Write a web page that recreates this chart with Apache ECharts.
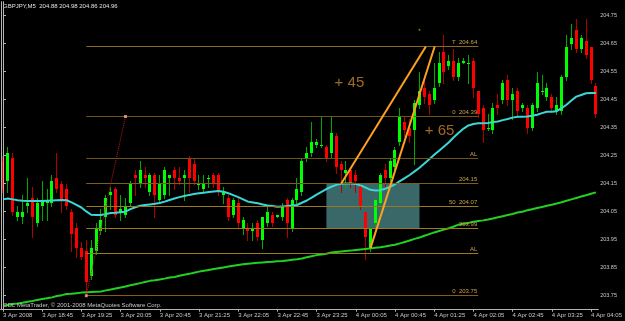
<!DOCTYPE html>
<html><head><meta charset="utf-8">
<script src="https://cdn.jsdelivr.net/npm/echarts@6/dist/echarts.min.js"></script>
<style>html,body{margin:0;padding:0;background:#000;}#c{width:625px;height:321px;}</style>
</head><body><div id="c"></div>
<script>
// ---- data (GBPJPY M5) ----
const opens=[204.23,204.16,204.24,204.03,204.03,204.07,204.10,204.01,204.07,204.08,
204.08,204.17,204.15,204.13,204.05,203.99,203.92,203.91,203.82,203.91,
203.98,204.03,204.11,204.13,204.05,204.04,204.08,204.18,204.15,204.18,
204.12,204.18,204.09,204.11,204.17,204.20,204.17,204.17,204.24,204.22,
204.15,204.13,204.17,204.18,204.18,204.11,204.10,204.04,204.08,203.99,
203.99,203.98,204.01,203.95,204.01,204.04,204.03,204.03,204.09,203.99,
204.09,204.12,204.24,204.26,204.29,204.29,204.28,204.26,204.32,204.22,
204.19,204.20,204.18,204.14,204.05,203.92,204.01,204.08,204.20,204.17,
204.21,204.30,204.37,204.35,204.34,204.43,204.49,204.47,204.45,204.51,
204.62,204.57,204.59,204.53,204.58,204.58,204.59,204.48,204.42,204.35,
204.34,204.43,204.45,204.52,204.45,204.48,204.42,204.42,204.35,204.42,
204.48,204.46,204.46,204.41,204.41,204.53,204.65,204.70,204.63,204.66,
204.64,204.50];
const highs=[204.25,204.28,204.26,204.07,204.11,204.17,204.14,204.10,204.16,204.13,
204.18,204.26,204.16,204.15,204.06,204.01,203.94,203.95,203.95,204.01,
204.06,204.11,204.14,204.14,204.11,204.10,204.16,204.20,204.23,204.21,
204.19,204.19,204.18,204.21,204.18,204.21,204.21,204.20,204.25,204.24,
204.18,204.18,204.18,204.19,204.19,204.14,204.11,204.10,204.10,204.03,
204.01,204.01,204.02,204.03,204.07,204.05,204.04,204.08,204.10,204.10,
204.17,204.24,204.28,204.37,204.31,204.39,204.29,204.39,204.33,204.23,
204.23,204.21,204.20,204.15,204.05,203.99,204.10,204.19,204.22,204.24,
204.28,204.42,204.39,204.38,204.45,204.55,204.52,204.48,204.58,204.62,
204.68,204.61,204.63,204.60,204.60,204.61,204.60,204.48,204.43,204.40,
204.44,204.47,204.52,204.54,204.49,204.49,204.44,204.43,204.44,204.55,
204.54,204.51,204.47,204.46,204.54,204.68,204.72,204.74,204.68,204.74,
204.64,204.51];
const lows=[204.12,204.12,204.04,204.02,204.01,204.05,203.96,204.00,204.02,204.02,
204.07,204.12,204.05,204.06,203.91,203.89,203.88,203.75,203.81,203.90,
203.97,203.98,204.06,204.03,204.02,204.03,204.07,204.11,204.14,204.14,
204.11,204.03,204.08,204.10,204.11,204.13,204.15,204.09,204.12,204.15,
204.13,204.12,204.14,204.14,204.11,204.08,204.02,204.03,203.99,203.97,
203.95,203.95,203.95,203.92,204.00,204.00,204.03,204.02,203.96,203.98,
204.08,204.11,204.23,204.25,204.28,204.28,204.23,204.24,204.19,204.12,
204.14,204.14,204.12,204.06,203.88,203.91,204.00,204.07,204.13,204.16,
204.20,204.29,204.32,204.30,204.22,204.42,204.44,204.40,204.44,204.50,
204.51,204.56,204.52,204.52,204.58,204.51,204.46,204.39,204.30,204.34,
204.33,204.40,204.44,204.43,204.38,204.39,204.41,204.33,204.34,204.41,
204.47,204.45,204.41,204.40,204.40,204.52,204.63,204.62,204.62,204.60,
204.51,204.39];
const closes=[204.13,204.26,204.05,204.05,204.05,204.08,204.03,204.08,204.09,204.09,
204.16,204.13,204.09,204.07,203.97,203.92,203.89,203.80,203.92,203.99,
204.02,204.10,204.12,204.04,204.06,204.07,204.15,204.17,204.20,204.17,
204.18,204.11,204.15,204.20,204.18,204.17,204.16,204.18,204.17,204.16,
204.15,204.15,204.17,204.15,204.12,204.12,204.03,204.09,204.01,204.02,
203.98,203.99,203.96,204.03,204.05,204.01,204.04,204.07,204.01,204.09,
204.13,204.23,204.26,204.30,204.30,204.29,204.24,204.33,204.21,204.20,
204.20,204.15,204.16,204.07,203.96,203.99,204.09,204.18,204.17,204.23,
204.27,204.39,204.34,204.32,204.44,204.48,204.46,204.43,204.49,204.58,
204.55,204.59,204.53,204.58,204.59,204.58,204.49,204.40,204.34,204.35,
204.42,204.42,204.51,204.45,204.47,204.41,204.43,204.35,204.43,204.51,
204.48,204.49,204.42,204.43,204.53,204.64,204.67,204.63,204.67,204.61,
204.52,204.40];
const maFast=[204.094,204.097,204.094,204.091,204.089,204.088,204.088,204.088,204.088,204.089,
204.090,204.091,204.092,204.091,204.083,204.074,204.065,204.051,204.039,204.038,
204.038,204.042,204.045,204.046,204.048,204.050,204.059,204.066,204.071,204.074,
204.076,204.078,204.081,204.086,204.092,204.097,204.102,204.106,204.110,204.113,
204.116,204.118,204.120,204.122,204.124,204.121,204.116,204.109,204.102,204.094,
204.086,204.083,204.080,204.076,204.072,204.070,204.068,204.069,204.070,204.072,
204.074,204.082,204.090,204.100,204.111,204.121,204.131,204.139,204.146,204.150,
204.151,204.151,204.149,204.144,204.136,204.128,204.126,204.127,204.132,204.139,
204.148,204.159,204.170,204.181,204.194,204.207,204.222,204.237,204.253,204.268,
204.283,204.298,204.316,204.332,204.347,204.358,204.363,204.366,204.366,204.367,
204.370,204.372,204.377,204.381,204.386,204.389,204.389,204.390,204.393,204.396,
204.402,204.407,204.407,204.409,204.420,204.432,204.447,204.461,204.467,204.473,
204.474,204.474];
const maSlow=[203.715,203.717,203.720,203.722,203.725,203.728,203.731,203.735,203.738,203.741,
203.744,203.749,203.752,203.756,203.757,203.759,203.761,203.762,203.763,203.764,
203.765,203.769,203.772,203.776,203.779,203.783,203.787,203.791,203.795,203.799,
203.803,203.805,203.808,203.811,203.815,203.817,203.821,203.825,203.828,203.832,
203.836,203.839,203.842,203.845,203.848,203.851,203.854,203.857,203.860,203.862,
203.864,203.866,203.868,203.869,203.870,203.871,203.873,203.874,203.876,203.878,
203.880,203.883,203.887,203.891,203.895,203.897,203.900,203.904,203.906,203.908,
203.910,203.911,203.913,203.915,203.917,203.919,203.921,203.923,203.926,203.929,
203.932,203.937,203.942,203.947,203.953,203.958,203.964,203.970,203.976,203.981,
203.986,203.991,203.997,204.004,204.007,204.010,204.014,204.017,204.019,204.022,
204.026,204.030,204.034,204.038,204.042,204.047,204.050,204.055,204.059,204.063,
204.067,204.071,204.075,204.079,204.084,204.089,204.094,204.099,204.104,204.109,
204.114,204.119];
const tickLabels=["3 Apr 2008","3 Apr 18:45","3 Apr 19:25","3 Apr 20:05","3 Apr 20:45","3 Apr 21:25","3 Apr 22:05","3 Apr 22:45","3 Apr 23:25","4 Apr 00:05","4 Apr 00:45","4 Apr 01:25","4 Apr 02:05","4 Apr 02:45","4 Apr 03:25","4 Apr 04:05"];
const priceTicks=[203.75,203.85,203.95,204.05,204.15,204.25,204.35,204.45,204.55,204.65,204.75];
const fibLevels=[204.64,204.39,204.24,204.15,204.07,203.99,203.90,203.75];
const fibLabels=["T  204.64","0  204.39","AL","204.15","50  204.07","203.99","AL","0  203.75"];
const fibBars=[17,97];
const trendA=[[69,204.15],[86.3,204.64]];
const trendB=[[75,203.92],[88.1,204.64]];
const zone=[[66,204.15],[85,203.99]];
const fibAnchor=[[17,203.75],[25,204.39]];
const gainNotes=[{bar:70.7,price:204.51,text:"+ 45"},{bar:89.1,price:204.34,text:"+ 65"}];
const markerDot=[85,204.70];
const titleText="GBPJPY,M5  204.88 204.98 204.86 204.96";
const copyText="ODL MetaTrader, \u00a9 2001-2008 MetaQuotes Software Corp.";

// ---- categories (5-minute bars from 3 Apr 18:05) ----
const categories=[];
for(let i=0;i<opens.length;i++){
  const m=18*60+5+5*i, day=m>=1440?4:3, mm=m%1440;
  categories.push(day+" Apr "+String(Math.floor(mm/60)).padStart(2,"0")+":"+String(mm%60).padStart(2,"0"));
}
const candleData=opens.map((o,i)=>[i,o,highs[i],lows[i],closes[i]]);

// ---- styles ----
const FONT="Liberation Sans";
const fibColors=["#8a6a1e","#6e5618","#6e5618","#7a601a","#9a7a1a","#9a7a1a","#9a7a1a","#8a5a18"];
const AXIS="#b4b4b4";

function renderCandle(params, api){
  const idx=api.value(0), o=api.value(1), h=api.value(2), l=api.value(3), c=api.value(4);
  const po=api.coord([idx,o]), pc=api.coord([idx,c]), ph=api.coord([idx,h]), pl=api.coord([idx,l]);
  const cx=Math.floor(po[0])+0.5;
  const up=c>=o;
  const t=Math.round(Math.min(po[1],pc[1]));
  const b=Math.max(Math.round(Math.max(po[1],pc[1])),t+1);
  return {type:"group",children:[
    {type:"line",shape:{x1:cx,y1:Math.round(ph[1]),x2:cx,y2:Math.round(pl[1])+1},style:{stroke:up?"#00a800":"#b00000",lineWidth:1}},
    {type:"rect",shape:{x:cx-1.5,y:t,width:3,height:b-t},style:{fill:up?"#00ff00":"#ff0000"}}
  ]};
}

const chart=echarts.init(document.getElementById("c"),null,{renderer:"canvas"});
chart.setOption({
  backgroundColor:"#000000",
  animation:false,
  title:[
    {text:titleText,left:3,top:3,padding:0,textStyle:{color:"#e0e0e0",fontSize:6,fontWeight:"normal",fontFamily:FONT}},
    {text:copyText,left:3,top:302,padding:0,textStyle:{color:"#c8c8c8",fontSize:6,fontWeight:"normal",fontFamily:FONT}}
  ],
  grid:{left:0,right:21.8,top:1.7,bottom:11.3,containLabel:false},
  xAxis:[
    {type:"category",data:categories,boundaryGap:true,
      axisLine:{show:true,lineStyle:{color:AXIS,width:1}},
      axisTick:{show:true,interval:7,alignWithLabel:true,length:2,lineStyle:{color:AXIS}},
      axisLabel:{interval:7,align:"left",margin:3,fontSize:6,color:"#c8c8c8",fontFamily:FONT,
        formatter:(v,idx)=>tickLabels[idx/8]!==undefined?tickLabels[idx/8]:""},
      splitLine:{show:false}},
    {type:"value",min:-0.5,max:121.5,show:false}
  ],
  yAxis:[
    {type:"value",position:"right",min:203.7,max:204.8,offset:-2.2,z:10,
      axisLine:{show:true,lineStyle:{color:AXIS,width:1}},
      axisTick:{show:true,length:3,customValues:priceTicks,lineStyle:{color:AXIS}},
      axisLabel:{customValues:priceTicks,margin:4,fontSize:5.5,color:"#c8c8c8",fontFamily:FONT,formatter:v=>v.toFixed(2)},
      splitLine:{show:false}},
    {type:"value",position:"left",min:203.7,max:204.8,offset:-1,z:10,
      axisLine:{show:true,lineStyle:{color:AXIS,width:1}},axisTick:{show:false},axisLabel:{show:false},splitLine:{show:false}}
  ],
  graphic:[{type:"rect",z:6,shape:{x:602,y:0,width:5,height:309},style:{fill:"#000000"}}],
  series:[
    {name:"zone",type:"line",xAxisIndex:1,data:[],z:1,
      markArea:{silent:true,itemStyle:{color:"#3a6868"},data:[[{coord:zone[0]},{coord:zone[1]}]]}},
    {name:"GBPJPY",type:"custom",z:2,renderItem:renderCandle,data:candleData,encode:{x:0,y:[1,2,3,4]}},
    {name:"MA fast",type:"line",data:maFast,z:3,symbol:"none",lineStyle:{color:"#3cd6d6",width:2}},
    {name:"MA slow",type:"line",data:maSlow,z:3,symbol:"none",lineStyle:{color:"#22d022",width:2}},
    {name:"fib",type:"scatter",xAxisIndex:1,data:[],z:4,
      markLine:{silent:true,symbol:"none",
        label:{show:true,position:"insideEndTop",formatter:"{b}",color:"#c8a050",fontSize:6,fontFamily:FONT,distance:1,padding:0},
        data:fibLevels.map((lv,k)=>[{coord:[fibBars[0],lv],name:fibLabels[k],lineStyle:{color:fibColors[k],width:1,type:"solid"}},{coord:[fibBars[1],lv]}])}},
    {name:"fibTrend",type:"scatter",xAxisIndex:1,data:[],z:4,
      markLine:{silent:true,symbol:"none",label:{show:false},
        data:[[{coord:fibAnchor[0],lineStyle:{color:"#c01818",width:1,type:"dotted"}},{coord:fibAnchor[1]}]]}},
    {name:"trends",type:"scatter",xAxisIndex:1,data:[],z:4,
      markLine:{silent:true,symbol:"none",label:{show:false},
        data:[[{coord:trendA[0],lineStyle:{color:"#ffa020",width:2,type:"solid"}},{coord:trendA[1]}],
              [{coord:trendB[0],lineStyle:{color:"#ffa020",width:2,type:"solid"}},{coord:trendB[1]}]]}},
    {name:"anchors",type:"scatter",xAxisIndex:1,z:5,symbol:"rect",symbolSize:3,itemStyle:{color:"#f0a898"},data:fibAnchor},
    {name:"dot",type:"scatter",xAxisIndex:1,z:5,symbolSize:2,itemStyle:{color:"#c08030"},data:[markerDot]},
    {name:"gains",type:"scatter",xAxisIndex:1,z:5,symbolSize:1,itemStyle:{color:"rgba(0,0,0,0)"},
      label:{show:true,position:"inside",formatter:"{b}",fontSize:15,color:"#c8842c",fontFamily:FONT},
      data:gainNotes.map(g=>({value:[g.bar,g.price],name:g.text}))}
  ]
});
</script></body></html>
